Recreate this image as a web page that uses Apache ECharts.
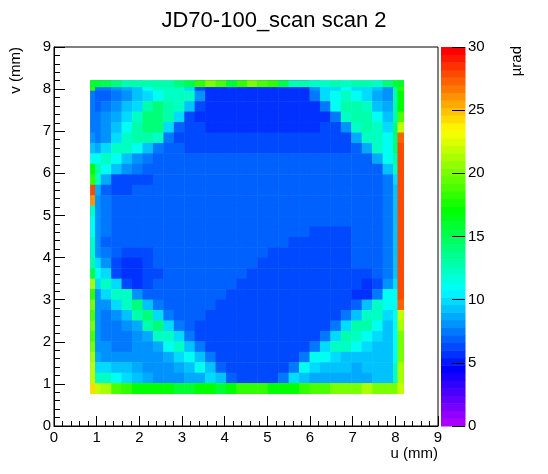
<!DOCTYPE html>
<html>
<head>
<meta charset="utf-8">
<title>JD70-100_scan scan 2</title>
<script src="https://cdn.jsdelivr.net/npm/echarts@6/dist/echarts.min.js"></script>
<style>
  html, body { margin: 0; padding: 0; background: #fff; }
  #chart { width: 548px; height: 474px; }
</style>
</head>
<body>
<div id="chart"></div>
<script>
// scanned area (mm)
const uRange = [0.85, 8.19];
const vRange = [0.77, 8.21];

// deflection (µrad) on a 30 x 30 grid, first row at the top (v high), columns along u
const rows = [
  [7.5,7.5,8,8.5,9.5,11,12,12,12,10,6,5.5,5.5,5.5,5.5,5.5,5.5,5.5,5.5,5.5,5.5,8,10,10,11,10,10,9,8,13],
  [7,7,7.5,8,9,10,11,12,12,12,8,5.5,5.5,5.5,5.5,5.5,5.5,5.5,5.5,5.5,5.5,7.5,10,11,12,11,10,8.5,8,13],
  [7,7.5,8,9,10,13,14,13,12,9,6,5.5,5.5,5.5,5.5,5.5,5.5,5.5,5.5,5.5,5.5,5.5,7.5,11,13,13,12,9.5,8.5,13],
  [7.5,8,8.5,10,12,14,14,13,10,6.5,5.8,5.5,5.5,5.5,5.5,5.5,5.5,5.5,5.5,5.5,5.5,5.5,5.6,7.5,12,13,13,11,9,13],
  [7.5,8,9,11,13,14,14,10,7,6.3,6,5.8,5.8,5.8,5.8,5.8,5.8,5.8,5.8,5.8,5.8,5.8,6,6.3,8,12,13,12,10,14],
  [7.5,8,10,12,13,13,12,7.5,6.5,6.3,6.3,6.2,6.2,6.2,6.2,6.2,6.2,6.2,6.2,6.2,6.2,6.2,6.2,6.3,6.5,8.5,12,12,11,14],
  [8.5,10,12,12,11,9,7.3,6.7,6.6,6.5,6.5,6.5,6.5,6.5,6.5,6.5,6.5,6.5,6.5,6.5,6.5,6.5,6.5,6.5,6.5,6.6,8.5,12,11,14],
  [11,12,11,9,7.8,7.2,6.9,6.7,6.7,6.6,6.6,6.6,6.6,6.6,6.6,6.6,6.7,6.7,6.7,6.7,6.7,6.7,6.7,6.7,6.7,6.7,6.9,8.5,11,13],
  [13,11,9,7.8,7.2,6.9,6.7,6.7,6.7,6.7,6.7,6.7,6.7,6.7,6.7,6.7,6.7,6.8,6.8,6.8,6.8,6.7,6.7,6.7,6.7,6.7,6.7,6.9,9,12],
  [12,8.5,6.3,6.3,6.5,6.4,6.6,6.7,6.7,6.7,6.7,6.7,6.7,6.7,6.7,6.7,6.8,6.9,6.9,6.9,6.8,6.7,6.7,6.7,6.7,6.7,6.7,6.7,7.3,10],
  [8.5,7,6.2,6.2,6.6,6.7,6.8,6.8,6.8,6.7,6.7,6.7,6.7,6.7,6.7,6.8,6.9,7,7,6.9,6.8,6.7,6.7,6.7,6.7,6.7,6.7,6.7,7.2,9.5],
  [7.8,7.2,6.9,6.9,7,7,7,6.9,6.8,6.7,6.7,6.7,6.7,6.7,6.8,6.9,7,7,6.9,6.8,6.7,6.7,6.6,6.6,6.6,6.6,6.7,6.8,7.2,9.5],
  [7.8,7.2,7,7,7.1,7.1,7,6.9,6.8,6.7,6.7,6.7,6.7,6.7,6.8,6.8,6.9,6.9,6.8,6.7,6.7,6.6,6.6,6.6,6.6,6.6,6.7,6.8,7.2,9.5],
  [7.8,7.2,7.1,7.1,7.1,7,6.9,6.8,6.7,6.7,6.7,6.7,6.7,6.7,6.7,6.7,6.8,6.8,6.7,6.7,6.6,6.6,6.6,6.6,6.6,6.6,6.7,6.9,7.4,9.5],
  [7.8,7.2,7.1,7.1,7,6.9,6.8,6.7,6.7,6.7,6.7,6.7,6.7,6.7,6.7,6.7,6.7,6.7,6.7,6.7,6.6,6.5,6.5,6.5,6.5,6.6,6.7,6.9,7.4,9.5],
  [7.8,7.1,6.9,6.8,6.8,6.8,6.7,6.7,6.7,6.7,6.7,6.7,6.7,6.7,6.7,6.7,6.7,6.6,6.6,6.5,6.5,6.5,6.4,6.4,6.5,6.6,6.8,7,7.4,9.5],
  [8.2,7.2,6.6,6.4,6.4,6.5,6.6,6.7,6.7,6.7,6.7,6.7,6.7,6.7,6.7,6.6,6.6,6.5,6.5,6.4,6.4,6.4,6.4,6.4,6.5,6.6,6.8,7,7.4,9.5],
  [10,7.8,6.2,5.9,5.9,6.2,6.6,6.7,6.7,6.7,6.7,6.7,6.7,6.7,6.6,6.6,6.5,6.4,6.4,6.4,6.4,6.4,6.4,6.4,6.5,6.6,6.7,6.9,7.4,9.5],
  [11,10,6.4,5.9,5.9,6,6.4,6.7,6.7,6.7,6.7,6.7,6.7,6.6,6.6,6.5,6.4,6.4,6.4,6.4,6.4,6.4,6.4,6.4,6.4,6.4,6.4,6.6,7.2,9.5],
  [10,12,10,6.4,5.9,6.2,6.6,6.7,6.7,6.7,6.7,6.7,6.6,6.6,6.5,6.4,6.4,6.4,6.4,6.4,6.4,6.4,6.4,6.4,6.4,6,5.9,6,8,10],
  [8,10,12,12,8,6.7,6.7,6.7,6.7,6.7,6.6,6.6,6.6,6.5,6.4,6.4,6.4,6.4,6.4,6.4,6.4,6.4,6.4,6.4,6.4,5.9,5.9,7.2,11,11],
  [7.8,7.8,10,12,14,9,7.2,6.7,6.7,6.6,6.6,6.6,6.5,6.4,6.4,6.4,6.4,6.4,6.4,6.4,6.4,6.4,6.4,6.4,6.4,6.9,9,12,11,11],
  [7.8,7.4,7.8,9,13,14,10,7.2,6.7,6.6,6.6,6.5,6.4,6.4,6.3,6.3,6.3,6.3,6.3,6.3,6.4,6.4,6.4,6.4,7.2,9,12,12,10,11],
  [7.8,7.4,7.4,7.8,8.5,13,14,10,7.2,6.6,6.5,6.4,6.4,6.3,6.3,6.2,6.2,6.2,6.2,6.2,6.3,6.4,6.4,7.2,10,13,13,11,9.5,11],
  [7.8,7.4,7.4,7.4,7.8,8.5,12,12,10,7.2,6.5,6.4,6.3,6.2,6.2,6.2,6.2,6.2,6.2,6.2,6.3,6.4,7.2,10,13,12,11,10,9,11],
  [7.8,7.8,7.4,7.4,7.8,7.8,8.5,11,12,9,7.2,6.4,6.3,6.2,6.2,6.2,6.2,6.2,6.2,6.3,6.4,7.2,10,12,12,11,10,9.5,9,11],
  [8.5,8.2,7.8,7.8,7.8,7.8,7.8,8.5,10,11,9,7.2,6.3,6.2,6.1,6.1,6.1,6.1,6.2,6.3,7.2,11,11,10,9.5,9,9,9,9,11],
  [10,10,9.5,9,8.5,8.2,7.8,7.8,8.5,9,11,9,6.9,6.2,6.1,6,6,6.1,6.2,7.4,11,10,9,9,9,8.5,9,9,9,12],
  [12,12,11,10,9,8.5,8.2,8.2,8.2,8.5,8.5,10,9,6.9,6.2,6,6,6.2,7.4,10,9,8.5,8.5,8.5,8.5,8.5,8.5,9,9,12],
  [22,21,19,18,17,17,17,17,16,16,17,17,16,17,18,18,18,17,17,17,18,19,19,20,20,20,21,20,20,20]
];

// noisy borders of the scan
const topStrip = [8.06, 8.21];    // v range
const leftStrip = [0.85, 0.95];   // u range
const rightStrip = [8.05, 8.19];  // u range
const topEdge = [16,15,14,13,13,13,13,13,14,15,18,20,19,16,18,20,19,18,15,13,13,12,12,13,12,13,13,12,14,16];
const leftEdge = [18,7.5,7.5,7.5,7.5,8,9,11,17,18,28,26,12,11,11,12,12,13,15,21,18,20,19,20,19,20,21,22,22,24];
const rightEdge = [18,17,17,19,22,27,28,28,28,28,28,28,28,28,28,28,28,28,28,28,28,27,22,21,20,20,20,21,21,22];

const zMax = 30;
const nLevels = 50;

const font = "'Liberation Sans', Arial, Helvetica, sans-serif";

// cells as [u0, u1, v0, v1, z]
const nRows = rows.length;
const nCols = rows[0].length;
const du = (uRange[1] - uRange[0]) / nCols;
const dv = (vRange[1] - vRange[0]) / nRows;
const cells = [];
rows.forEach((row, i) => {
  const v1 = vRange[1] - i * dv;
  row.forEach((z, j) => {
    const u0 = uRange[0] + j * du;
    cells.push([u0, u0 + du, v1 - dv, v1, z]);
  });
});
leftEdge.forEach((z, i) => {
  const v1 = vRange[1] - i * dv;
  cells.push([leftStrip[0], leftStrip[1], v1 - dv, v1, z]);
});
rightEdge.forEach((z, i) => {
  const v1 = vRange[1] - i * dv;
  cells.push([rightStrip[0], rightStrip[1], v1 - dv, v1, z]);
});
topEdge.forEach((z, j) => {
  const u0 = uRange[0] + j * du;
  cells.push([u0, u0 + du, topStrip[0], topStrip[1], z]);
});

// ROOT "pretty palette": hue 280 -> 0 in 50 steps
function hueToHex(h) {
  const f = (n) => {
    const k = (n + h / 30) % 12;
    const c = 0.5 - 0.5 * Math.max(-1, Math.min(k - 3, 9 - k, 1));
    return Math.round(255 * c).toString(16).padStart(2, '0');
  };
  return '#' + f(0) + f(8) + f(4);
}
const step = zMax / nLevels;
const pieces = [];
const paletteBands = [];
for (let i = 0; i < nLevels; i++) {
  const piece = { color: hueToHex(280 * (1 - i / (nLevels - 1))) };
  if (i > 0) piece.gte = i * step;
  if (i < nLevels - 1) piece.lt = (i + 1) * step;
  pieces.push(piece);
  paletteBands.push([0, 1, i * step, (i + 1) * step, (i + 0.5) * step]);
}

function renderCell(params, api) {
  const p0 = api.coord([api.value(0), api.value(3)]);
  const p1 = api.coord([api.value(1), api.value(2)]);
  return {
    type: 'rect',
    shape: { x: p0[0], y: p0[1], width: p1[0] - p0[0] + 0.5, height: p1[1] - p0[1] + 0.5 },
    style: { fill: api.visual('color') }
  };
}

const black = { color: '#000', width: 1 };

const chart = echarts.init(document.getElementById('chart'));
chart.setOption({
  animation: false,
  backgroundColor: '#fff',
  title: {
    text: 'JD70-100_scan scan 2',
    left: 'center',
    top: 5,
    textStyle: { fontSize: 22, fontWeight: 'normal', color: '#000', fontFamily: font }
  },
  grid: [
    { left: 54, top: 47, width: 384, height: 379, show: true, borderColor: '#000', borderWidth: 1, backgroundColor: 'transparent', outerBoundsMode: 'none' },
    { left: 441, top: 47, width: 24, height: 379, outerBoundsMode: 'none' }
  ],
  xAxis: [
    {
      gridIndex: 0, type: 'value', min: 0, max: 9, interval: 1, z: 10,
      axisLine: { show: true, onZero: false, lineStyle: black },
      axisTick: { show: true, inside: true, length: 10, lineStyle: black },
      minorTick: { show: true, splitNumber: 5, length: 5, lineStyle: black },
      splitLine: { show: false },
      axisLabel: { color: '#000', fontSize: 15, fontFamily: font, margin: 4 },
      name: 'u (mm)', nameLocation: 'end', nameGap: 0,
      nameTextStyle: { color: '#000', fontSize: 15, fontFamily: font, align: 'right', verticalAlign: 'top', padding: [20, 0, 0, 0] }
    },
    { gridIndex: 1, type: 'value', min: 0, max: 1, show: false }
  ],
  yAxis: [
    {
      gridIndex: 0, type: 'value', min: 0, max: 9, interval: 1, z: 10,
      axisLine: { show: true, onZero: false, lineStyle: black },
      axisTick: { show: true, inside: true, length: 11, lineStyle: black },
      minorTick: { show: true, splitNumber: 5, length: 6, lineStyle: black },
      splitLine: { show: false },
      axisLabel: { color: '#000', fontSize: 15, fontFamily: font, margin: 3 }
    },
    {
      gridIndex: 1, type: 'value', min: 0, max: zMax, interval: 5, position: 'right', z: 10,
      axisLine: { show: false, onZero: false },
      axisTick: { show: true, inside: true, length: 13, lineStyle: black },
      splitLine: { show: false },
      axisLabel: { color: '#000', fontSize: 15, fontFamily: font, margin: 3 }
    }
  ],
  visualMap: {
    type: 'piecewise',
    show: false,
    dimension: 4,
    seriesIndex: [0, 1],
    pieces: pieces
  },
  graphic: [
    {
      type: 'text', x: 16, y: 47, rotation: Math.PI / 2,
      style: { text: 'v (mm)', fill: '#000', fontSize: 15, fontFamily: font, align: 'right', verticalAlign: 'middle' }
    },
    {
      type: 'text', x: 517, y: 46, rotation: Math.PI / 2,
      style: { text: 'µrad', fill: '#000', fontSize: 15, fontFamily: font, align: 'right', verticalAlign: 'middle' }
    }
  ],
  series: [
    {
      type: 'custom',
      name: 'scan',
      xAxisIndex: 0,
      yAxisIndex: 0,
      silent: true,
      clip: true,
      renderItem: renderCell,
      encode: { x: [0, 1], y: [2, 3] },
      data: cells
    },
    {
      type: 'custom',
      name: 'palette',
      xAxisIndex: 1,
      yAxisIndex: 1,
      silent: true,
      renderItem: renderCell,
      encode: { x: [0, 1], y: [2, 3] },
      data: paletteBands
    }
  ]
});
</script>
</body>
</html>
